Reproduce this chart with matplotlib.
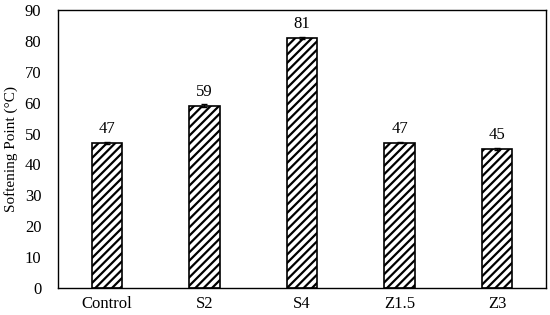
import matplotlib.pyplot as plt
import numpy as np

plt.rcParams['font.family'] = ['Liberation Serif', 'DejaVu Serif']
plt.rcParams['hatch.linewidth'] = 1.6

categories = ['Control', 'S2', 'S4', 'Z1.5', 'Z3']
values = [47, 59, 81, 47, 45]
errors = [0.4, 0.5, 0.3, 0.2, 0.2]
labels = ['47', '59', '81', '47', '45']

fig = plt.figure(figsize=(5.5, 3.15), dpi=100)
ax = fig.add_axes([58 / 550, 27 / 315, 488 / 550, 278 / 315])

x = np.arange(len(categories))
bars = ax.bar(x, values, width=0.31, color='white', edgecolor='black',
              linewidth=1.2, hatch='////', yerr=errors,
              error_kw=dict(ecolor='black', elinewidth=0.8, capsize=2))

for xi, v, lab in zip(x, values, labels):
    ax.text(xi, v + 2.0, lab, ha='center', va='bottom', fontsize=12)

ax.set_xlim(-0.5, len(categories) - 0.5)
ax.set_ylim(0, 90)
ax.set_yticks(range(0, 91, 10))
ax.set_xticks(x)
ax.set_xticklabels(categories)
ax.tick_params(length=0, labelsize=12)
ax.tick_params(axis='x', pad=6)
ax.tick_params(axis='y', pad=12)
for s in ax.spines.values():
    s.set_linewidth(1.0)
ax.set_ylabel('Softening Point (°C)', fontsize=11)
ax.yaxis.set_label_coords(-0.082, 0.5)

fig.savefig('out.png', dpi=100)
